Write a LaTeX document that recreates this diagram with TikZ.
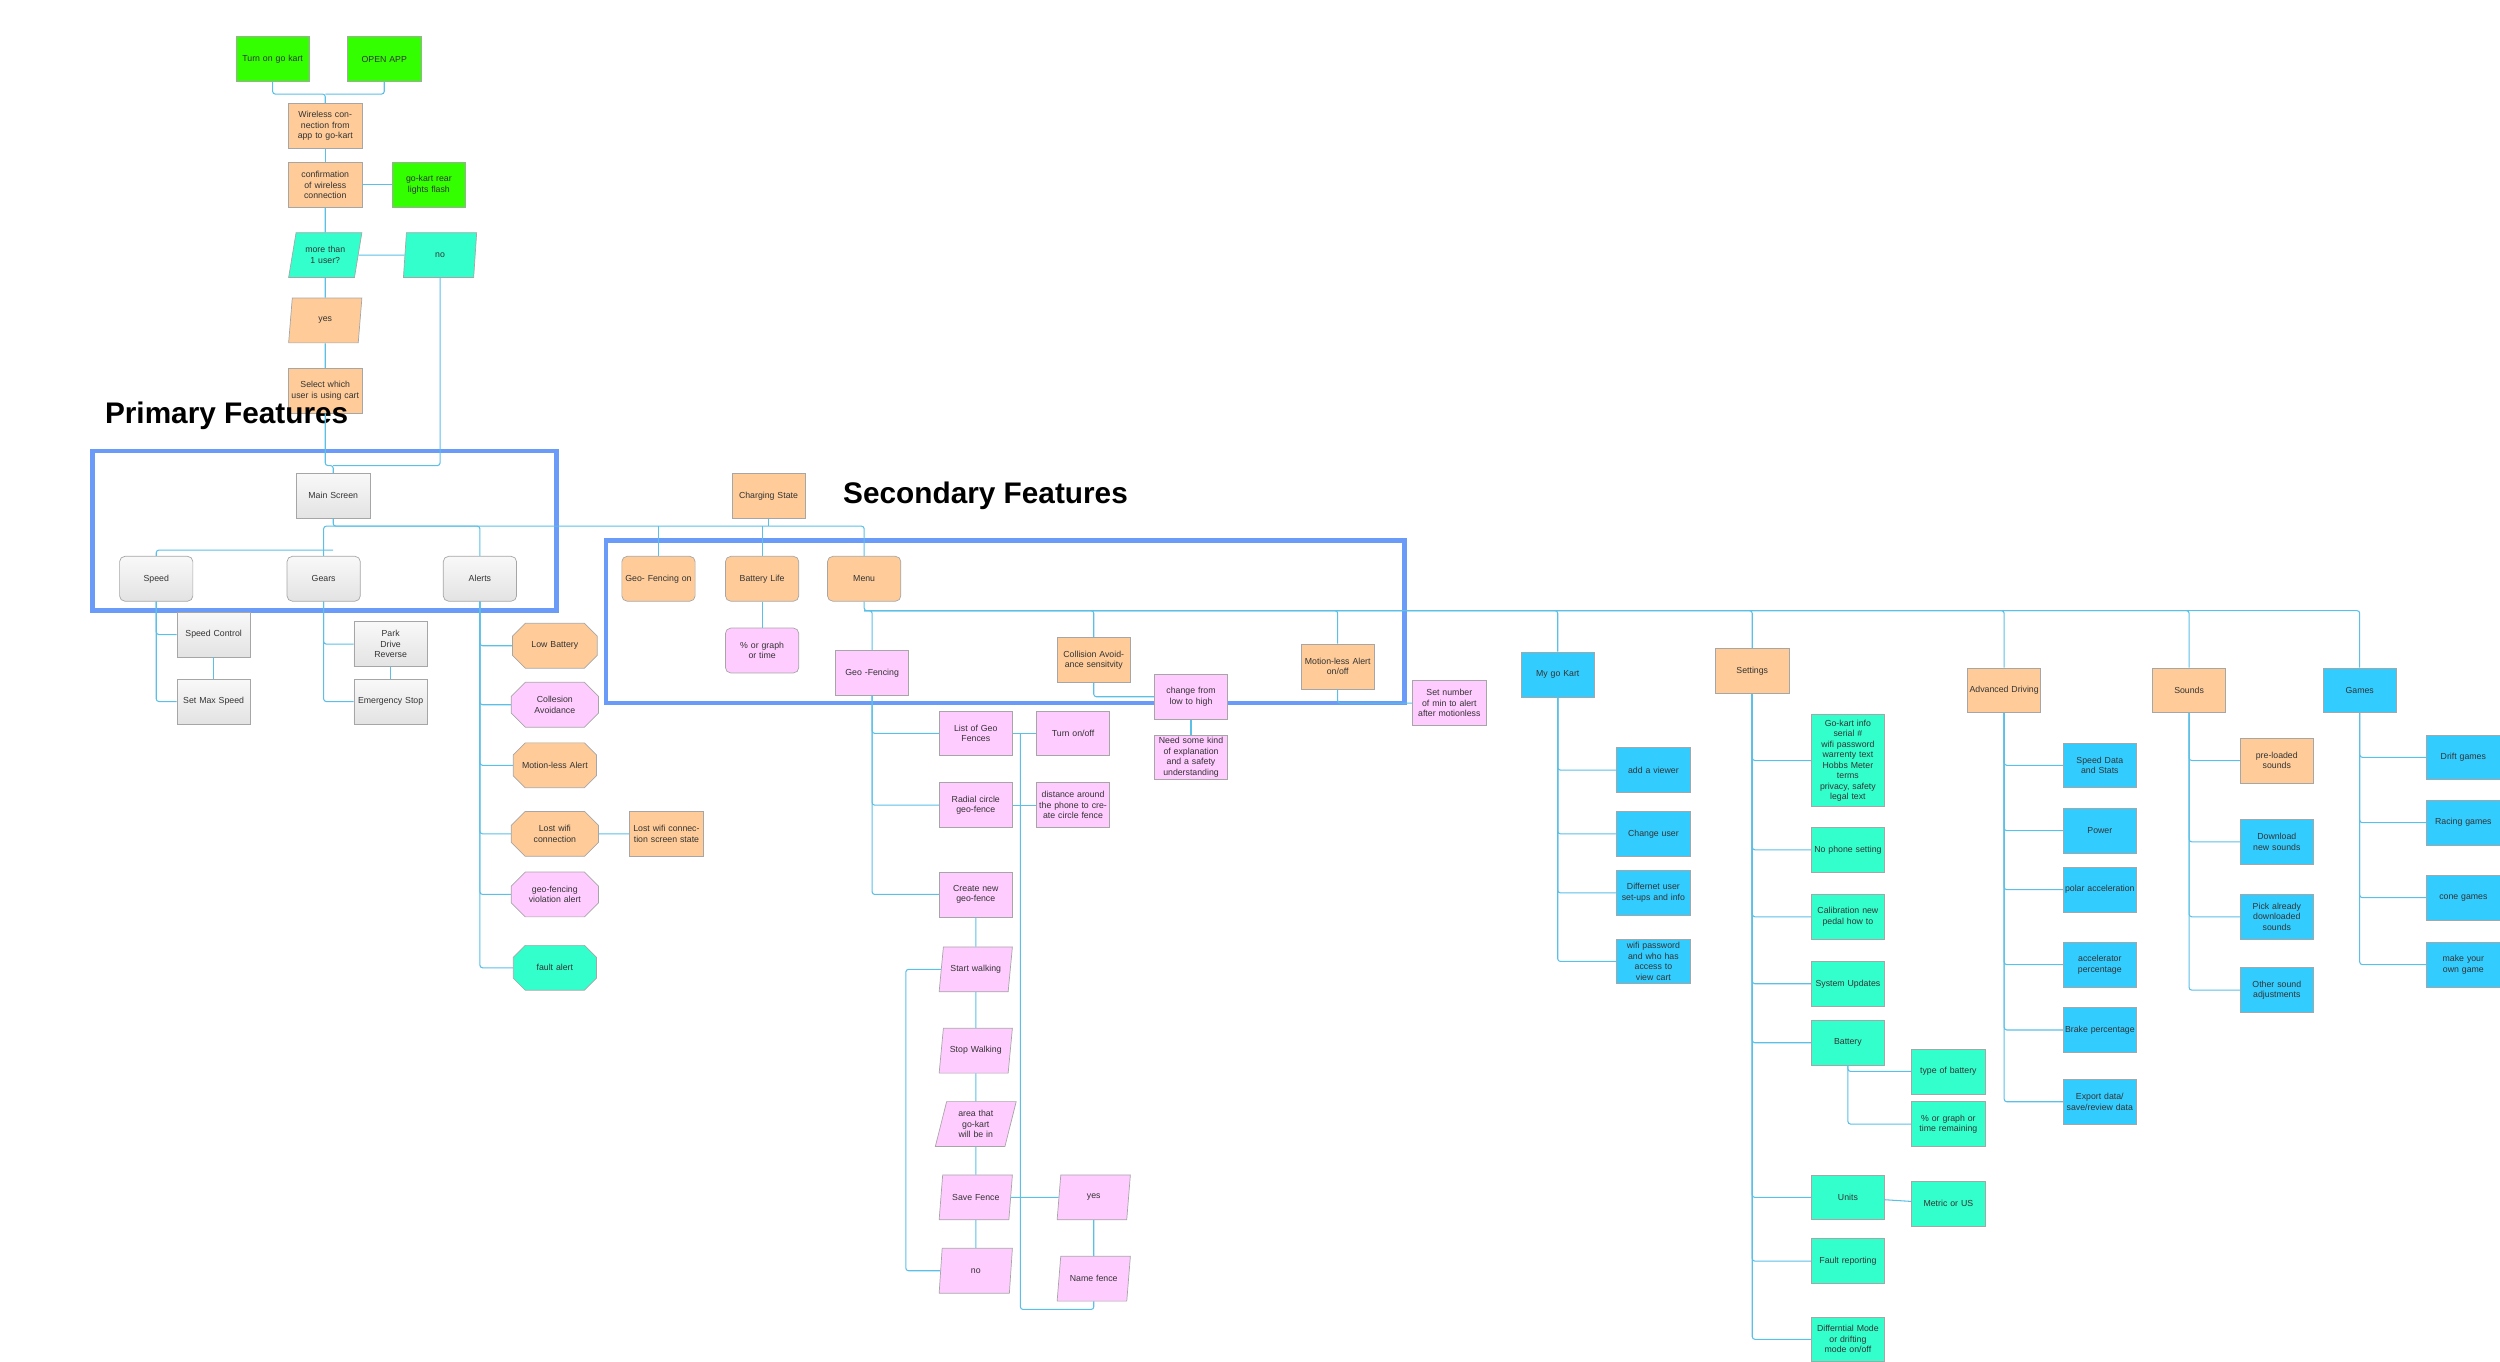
\documentclass[tikz,border=0pt]{standalone}
\usepackage{fontspec}
\setmainfont{Liberation Sans}
\usetikzlibrary{calc, shapes.geometric, shapes.misc}
\definecolor{kgreen}{HTML}{33FF00}
\definecolor{korange}{HTML}{FFCC99}
\definecolor{kmint}{HTML}{33FFCC}
\definecolor{kblue}{HTML}{33CCFF}
\definecolor{kpink}{HTML}{FFCCFF}
\definecolor{klink}{HTML}{5BBFE6}
\definecolor{kframe}{HTML}{6A9BF8}
\tikzset{
    box/.style = {draw=gray!70, minimum width=1.47cm, minimum height=0.9cm,
                  inner sep=1pt, text width=1.4cm, align=center, text=black!80,
                  font=\fontsize{5}{6}\selectfont},
    greenbox/.style = {box, fill=kgreen},
    orangebox/.style = {box, fill=korange},
    mintbox/.style = {box, fill=kmint},
    bluebox/.style = {box, fill=kblue},
    pinkbox/.style = {box, fill=kpink},
    graybox/.style = {box, top color=gray!5, bottom color=gray!22},
    roundbox/.style = {rounded corners=3pt},
    cutbox/.style = {chamfered rectangle, chamfered rectangle xsep=2pt,
                     chamfered rectangle ysep=2pt, chamfered rectangle sep=4pt},
    slant/.style = {trapezium, trapezium left angle=70, trapezium right angle=110,
                    trapezium stretches body=true, text width=1.1cm},
    link/.style = {draw=klink, line width=0.6pt, rounded corners=1.5pt},
    frame/.style = {draw=kframe, line width=2.6pt},
    heading/.style = {font=\fontsize{17}{20}\selectfont\bfseries}
}

\begin{document}
\begin{tikzpicture}[x=0.032cm, y=-0.032cm]
    \useasboundingbox (0,0) rectangle (1568,854);

    % start up
    \node[greenbox] (turn) at (171,37) {Turn on go kart};
    \node[greenbox] (app) at (241,37) {OPEN APP};
    \node[orangebox] (wl) at (204,79) {Wireless connection from app to go-kart};
    \node[orangebox] (conf) at (204,116) {confirmation of wireless connection};
    \node[greenbox] (flash) at (269,116) {go-kart rear lights flash};
    \node[mintbox, slant] (multi) at (204,160) {more than 1 user?};
    \node[mintbox, slant] (no) at (276,160) {no};
    \node[orangebox, slant] (yes) at (204,201) {yes};
    \node[orangebox] (sel) at (204,245) {Select which user is using cart};

    \coordinate (topbar) at (0,59);
    \coordinate (msbar) at (0,292);
    \coordinate (fanA) at (0,330);
    \coordinate (fanB) at (0,345);
    \coordinate (menubar) at (0,383);

    % primary features
    \node[heading, anchor=west] (prim) at (62,261) {Primary Features};
    \draw[frame] (58,283) rectangle (349,383);
    \node[graybox] (ms) at (209,311) {Main Screen};
    \foreach \Name/\x/\Text in {speed/98/Speed, gears/203/Gears, alerts/301/Alerts}
        \node[graybox, roundbox] (\Name) at (\x,363) {\Text};
    \node[graybox] (spc) at (134,398) {Speed Control};
    \node[graybox] (smax) at (134,440) {Set Max Speed};
    \node[graybox] (pdr) at (245,404) {Park\\Drive\\Reverse};
    \node[graybox] (estop) at (245,440) {Emergency Stop};
    \node[orangebox, cutbox] (lowb) at (348,405) {Low Battery};
    \node[pinkbox, cutbox] (coll) at (348,442) {Collesion Avoidance};
    \node[orangebox, cutbox] (motion) at (348,480) {Motion-less Alert};
    \node[orangebox, cutbox] (lost) at (348,523) {Lost wifi connection};
    \node[orangebox] (lostst) at (418,523) {Lost wifi connection screen state};
    \node[pinkbox, cutbox] (geov) at (348,561) {geo-fencing violation alert};
    \node[mintbox, cutbox] (fault) at (348,607) {fault alert};

    % secondary features
    \node[heading, anchor=west] (sec) at (525,311) {Secondary Features};
    \draw[frame] (380,339) rectangle (881,441);
    \node[orangebox] (charge) at (482,311) {Charging State};
    \node[orangebox, roundbox] (geoon) at (413,363) {Geo- Fencing on};
    \node[orangebox, roundbox] (batt) at (478,363) {Battery Life};
    \node[orangebox, roundbox] (menu) at (542,363) {Menu};
    \node[pinkbox, roundbox] (pct) at (478,408) {\% or graph or time};
    \node[pinkbox] (geof) at (547,422) {Geo -Fencing};
    \node[orangebox] (cas) at (686,414) {Collision Avoidance sensitvity};
    \node[pinkbox] (chg) at (747,437) {change from low to high};
    \node[pinkbox] (need) at (747,475) {Need some kind of explanation and a safety understanding};
    \node[orangebox] (mla) at (839,418) {Motion-less Alert\\on/off};
    \node[pinkbox] (setn) at (909,441) {Set number of min to alert after motionless};

    % geo fencing
    \node[pinkbox] (list) at (612,460) {List of Geo Fences};
    \node[pinkbox] (onoff) at (673,460) {Turn on/off};
    \node[pinkbox] (radial) at (612,505) {Radial circle geo-fence};
    \node[pinkbox] (dist) at (673,505) {distance around the phone to create circle fence};
    \node[pinkbox] (create) at (612,561) {Create new geo-fence};
    \foreach \Name/\y/\Text in {start/608/Start walking, stop/659/Stop Walking,
                                area/705/{area that go-kart will be in},
                                save/751/Save Fence, gno/797/no}
        \node[pinkbox, slant] (\Name) at (612,\y) {\Text};
    \node[pinkbox, slant] (gyes) at (686,751) {yes};
    \node[pinkbox, slant] (gname) at (686,802) {Name fence};

    % menu branches
    \node[bluebox] (mgk) at (977,423) {My go Kart};
    \node[orangebox] (set) at (1099,421) {Settings};
    \node[orangebox] (adv) at (1257,433) {Advanced Driving};
    \node[orangebox] (snd) at (1373,433) {Sounds};
    \node[bluebox] (games) at (1480,433) {Games};

    \foreach \Name/\y/\Text in {addv/483/add a viewer, chu/523/Change user,
                                diff/560/{Differnet user set-ups and info},
                                wifi/603/{wifi password and who has access to view cart}}
        \node[bluebox] (\Name) at (1037,\y) {\Text};
    \node[mintbox, minimum height=1.85cm] (info) at (1159,477)
        {Go-kart info\\serial \#\\wifi password\\warrenty text\\Hobbs Meter\\terms\\privacy, safety\\legal text};
    \foreach \Name/\y/\Text in {nophone/533/No phone setting,
                                calib/575/{Calibration new pedal how to},
                                sysup/617/System Updates, battery/654/Battery,
                                units/751/Units, faultrep/791/Fault reporting,
                                diffm/840/{Differntial Mode or drifting mode on/off}}
        \node[mintbox] (\Name) at (1159,\y) {\Text};
    \node[mintbox] (btype) at (1222,672) {type of battery};
    \node[mintbox] (brem) at (1222,705) {\% or graph or time remaining};
    \node[mintbox] (metric) at (1222,755) {Metric or US};
    \foreach \Name/\y/\Text in {sdata/480/{Speed Data and Stats}, power/521/Power,
                                polar/558/polar acceleration,
                                accel/605/accelerator percentage,
                                brake/646/Brake percentage,
                                export/691/{Export data/ save/review data}}
        \node[bluebox] (\Name) at (1317,\y) {\Text};
    \node[orangebox] (preload) at (1428,477) {pre-loaded sounds};
    \foreach \Name/\y/\Text in {dlnew/528/Download new sounds,
                                pick/575/{Pick already downloaded sounds},
                                other/621/Other sound adjustments}
        \node[bluebox] (\Name) at (1428,\y) {\Text};
    \foreach \Name/\y/\Text in {drift/475/Drift games, racing/516/Racing games,
                                cone/563/cone games, own/605/{make your own game}}
        \node[bluebox] (\Name) at (1545,\y) {\Text};

    % start up links
    \draw[link] (turn.south) |- (wl.north |- topbar) -- (wl.north);
    \draw[link] (app.south) |- (wl.north |- topbar);
    \draw[link] (wl) -- (conf);
    \draw[link] (conf) -- (flash);
    \draw[link] (conf) -- (multi);
    \draw[link] (multi) -- (no);
    \draw[link] (multi) -- (yes);
    \draw[link] (yes) -- (sel);
    \draw[link] (sel.south) |- (ms.north |- msbar) -- (ms.north);
    \draw[link] (no.south) |- (ms.north |- msbar);

    % main screen links
    \draw[link] (ms.south) |- (menu.north |- fanA) -- (menu.north);
    \draw[link] (ms.south |- fanB) -| (speed.north);
    \draw[link] (gears.north) |- (ms.south |- fanA);
    \draw[link] (alerts.north) |- (ms.south |- fanA);
    \foreach \Target in {charge, geoon, batt}
        \draw[link] (\Target) -- (\Target |- fanA);
    \foreach \Target in {spc, smax}
        \draw[link] (speed.south) |- (\Target.west);
    \draw[link] (spc) -- (smax);
    \foreach \Target in {pdr, estop}
        \draw[link] (gears.south) |- (\Target.west);
    \draw[link] (pdr) -- (estop);
    \foreach \Target in {lowb, coll, motion, lost, geov, fault}
        \draw[link] (alerts.south) |- (\Target.west);
    \draw[link] (lost) -- (lostst);
    \draw[link] (batt) -- (pct);

    % menu links
    \draw[link] (menu.south) |- (games.north |- menubar) -- (games.north);
    \foreach \Target in {geof, cas, mla, mgk, set, adv, snd}
        \draw[link] (\Target.north) |- (menu.south |- menubar);
    \draw[link] (cas.south) |- (chg.west);
    \draw[link] (chg) -- (need);
    \draw[link] (mla.south) |- (setn.west);

    % geo fencing links
    \foreach \Target in {list, radial, create}
        \draw[link] (geof.south) |- (\Target.west);
    \draw[link] (list) -- (onoff);
    \draw[link] (radial) -- (dist);
    \draw[link] (640,460) |- ($(gname.south)+(0,5)$) -- (gname.south);
    \draw[link] (create) -- (start) -- (stop) -- (area) -- (save) -- (gno);
    \draw[link] (start.west) -- ++(-22,0) |- (gno.west);
    \draw[link] (save.east) -- (gyes.west);
    \draw[link] (gyes) -- (gname);

    % sub menu links
    \foreach \Target in {addv, chu, diff, wifi}
        \draw[link] (mgk.south) |- (\Target.west);
    \foreach \Target in {info, nophone, calib, sysup, battery, units, faultrep, diffm}
        \draw[link] (set.south) |- (\Target.west);
    \foreach \Target in {btype, brem}
        \draw[link] (battery.south) |- (\Target.west);
    \draw[link] (units) -- (metric);
    \foreach \Target in {sdata, power, polar, accel, brake, export}
        \draw[link] (adv.south) |- (\Target.west);
    \foreach \Target in {preload, dlnew, pick, other}
        \draw[link] (snd.south) |- (\Target.west);
    \foreach \Target in {drift, racing, cone, own}
        \draw[link] (games.south) |- (\Target.west);
\end{tikzpicture}
\end{document}
